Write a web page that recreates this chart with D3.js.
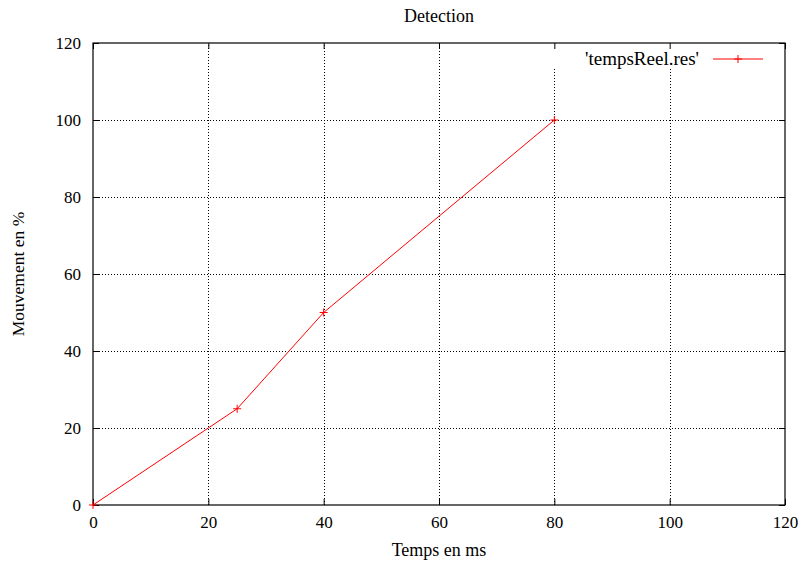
<!DOCTYPE html>
<html>
<head>
<meta charset="utf-8">
<script src="https://cdn.jsdelivr.net/npm/d3@7"></script>
<style>
  body { margin: 0; background: #fff; }
  svg text { font-family: "Liberation Serif", "Times New Roman", Times, "DejaVu Serif", serif !important; fill: #000; }
</style>
</head>
<body>
<div class="svgContainer"></div>
<script>
const tempsMs = [0, 25, 40, 80];
const mouvement = [0, 25, 50, 100];
const xTicks = [0, 20, 40, 60, 80, 100, 120];
const yTicks = [0, 20, 40, 60, 80, 100, 120];
const seriesName = "'tempsReel.res'";

const width = 804;
const height = 561;
const margin = {left: 93, right: 19, top: 43, bottom: 56};

const svg = d3.select('.svgContainer').append('svg')
  .attr('width', width)
  .attr('height', height);

const scaleX = d3.scaleLinear()
  .domain([0, 120])
  .range([margin.left, width - margin.right]);

const scaleY = d3.scaleLinear()
  .domain([0, 120])
  .range([height - margin.bottom, margin.top]);

// grid
const grid = svg.append('g').attr('class', 'grid')
  .attr('stroke', '#000')
  .attr('stroke-width', 1)
  .attr('stroke-dasharray', '1,2');

grid.selectAll('line.gx')
  .data(xTicks.slice(1, -1))
  .enter().append('line')
  .attr('x1', d => Math.round(scaleX(d)) + 0.5)
  .attr('x2', d => Math.round(scaleX(d)) + 0.5)
  .attr('y1', scaleY(0))
  .attr('y2', scaleY(120));

grid.selectAll('line.gy')
  .data(yTicks.slice(1, -1))
  .enter().append('line')
  .attr('y1', d => Math.round(scaleY(d)) + 0.5)
  .attr('y2', d => Math.round(scaleY(d)) + 0.5)
  .attr('x1', scaleX(0))
  .attr('x2', scaleX(120));

// legend area hides the grid
svg.append('rect')
  .attr('x', 540)
  .attr('y', scaleY(120) + 1)
  .attr('width', scaleX(120) - 541)
  .attr('height', 24)
  .attr('fill', '#fff');

// axes with inward ticks, mirrored
const tickLen = 6;
svg.append('g')
  .attr('transform', 'translate(0,' + scaleY(0) + ')')
  .call(d3.axisBottom(scaleX).tickValues(xTicks).tickSize(-tickLen).tickPadding(11).tickFormat(d3.format('d')))
  .call(g => g.select('.domain').remove());

svg.append('g')
  .attr('transform', 'translate(0,' + scaleY(120) + ')')
  .call(d3.axisTop(scaleX).tickValues(xTicks).tickSize(-tickLen).tickFormat(''))
  .call(g => g.select('.domain').remove());

svg.append('g')
  .attr('transform', 'translate(' + scaleX(0) + ',0)')
  .call(d3.axisLeft(scaleY).tickValues(yTicks).tickSize(-tickLen).tickPadding(12).tickFormat(d3.format('d')))
  .call(g => g.select('.domain').remove());

svg.append('g')
  .attr('transform', 'translate(' + scaleX(120) + ',0)')
  .call(d3.axisRight(scaleY).tickValues(yTicks).tickSize(-tickLen).tickFormat(''))
  .call(g => g.select('.domain').remove());

svg.selectAll('.tick text')
  .attr('font-family', null)
  .style('font-size', '17px');

svg.selectAll('.tick line').attr('stroke', '#000');

// border
svg.append('rect')
  .attr('x', scaleX(0))
  .attr('y', scaleY(120))
  .attr('width', scaleX(120) - scaleX(0))
  .attr('height', scaleY(0) - scaleY(120))
  .attr('fill', 'none')
  .attr('stroke', '#000')
  .attr('stroke-width', 1.2);

// series
const data = tempsMs.map((t, i) => ({x: t, y: mouvement[i]}));

const line = d3.line()
  .x(d => scaleX(d.x))
  .y(d => scaleY(d.y));

svg.append('path')
  .datum(data)
  .attr('d', line)
  .attr('fill', 'none')
  .attr('stroke', '#ff0000')
  .attr('stroke-width', 1);

const plus = (sel, size) => {
  sel.append('line').attr('x1', -size).attr('x2', size).attr('y1', 0).attr('y2', 0);
  sel.append('line').attr('x1', 0).attr('x2', 0).attr('y1', -size).attr('y2', size);
};

svg.selectAll('g.pt')
  .data(data)
  .enter().append('g')
  .attr('class', 'pt')
  .attr('transform', d => 'translate(' + scaleX(d.x) + ',' + scaleY(d.y) + ')')
  .attr('stroke', '#ff0000')
  .attr('stroke-width', 1)
  .each(function () { plus(d3.select(this), 4); });

// legend
const legend = svg.append('g');
legend.append('text')
  .attr('x', 699)
  .attr('y', 65)
  .attr('text-anchor', 'end')
  .style('font-size', '19px')
  .text(seriesName);
legend.append('line')
  .attr('x1', 713).attr('x2', 763)
  .attr('y1', 59).attr('y2', 59)
  .attr('stroke', '#ff0000');
legend.append('g')
  .attr('transform', 'translate(738,59)')
  .attr('stroke', '#ff0000')
  .each(function () { plus(d3.select(this), 4); });

// titles
svg.append('text')
  .attr('x', (scaleX(0) + scaleX(120)) / 2)
  .attr('y', 22)
  .attr('text-anchor', 'middle')
  .style('font-size', '18px')
  .text('Detection');

svg.append('text')
  .attr('x', (scaleX(0) + scaleX(120)) / 2)
  .attr('y', 556)
  .attr('text-anchor', 'middle')
  .style('font-size', '18px')
  .text('Temps en ms');

svg.append('text')
  .attr('transform', 'translate(24,' + (scaleY(0) + scaleY(120)) / 2 + ') rotate(-90)')
  .attr('text-anchor', 'middle')
  .style('font-size', '17.5px')
  .text('Mouvement en %');
</script>
</body>
</html>
